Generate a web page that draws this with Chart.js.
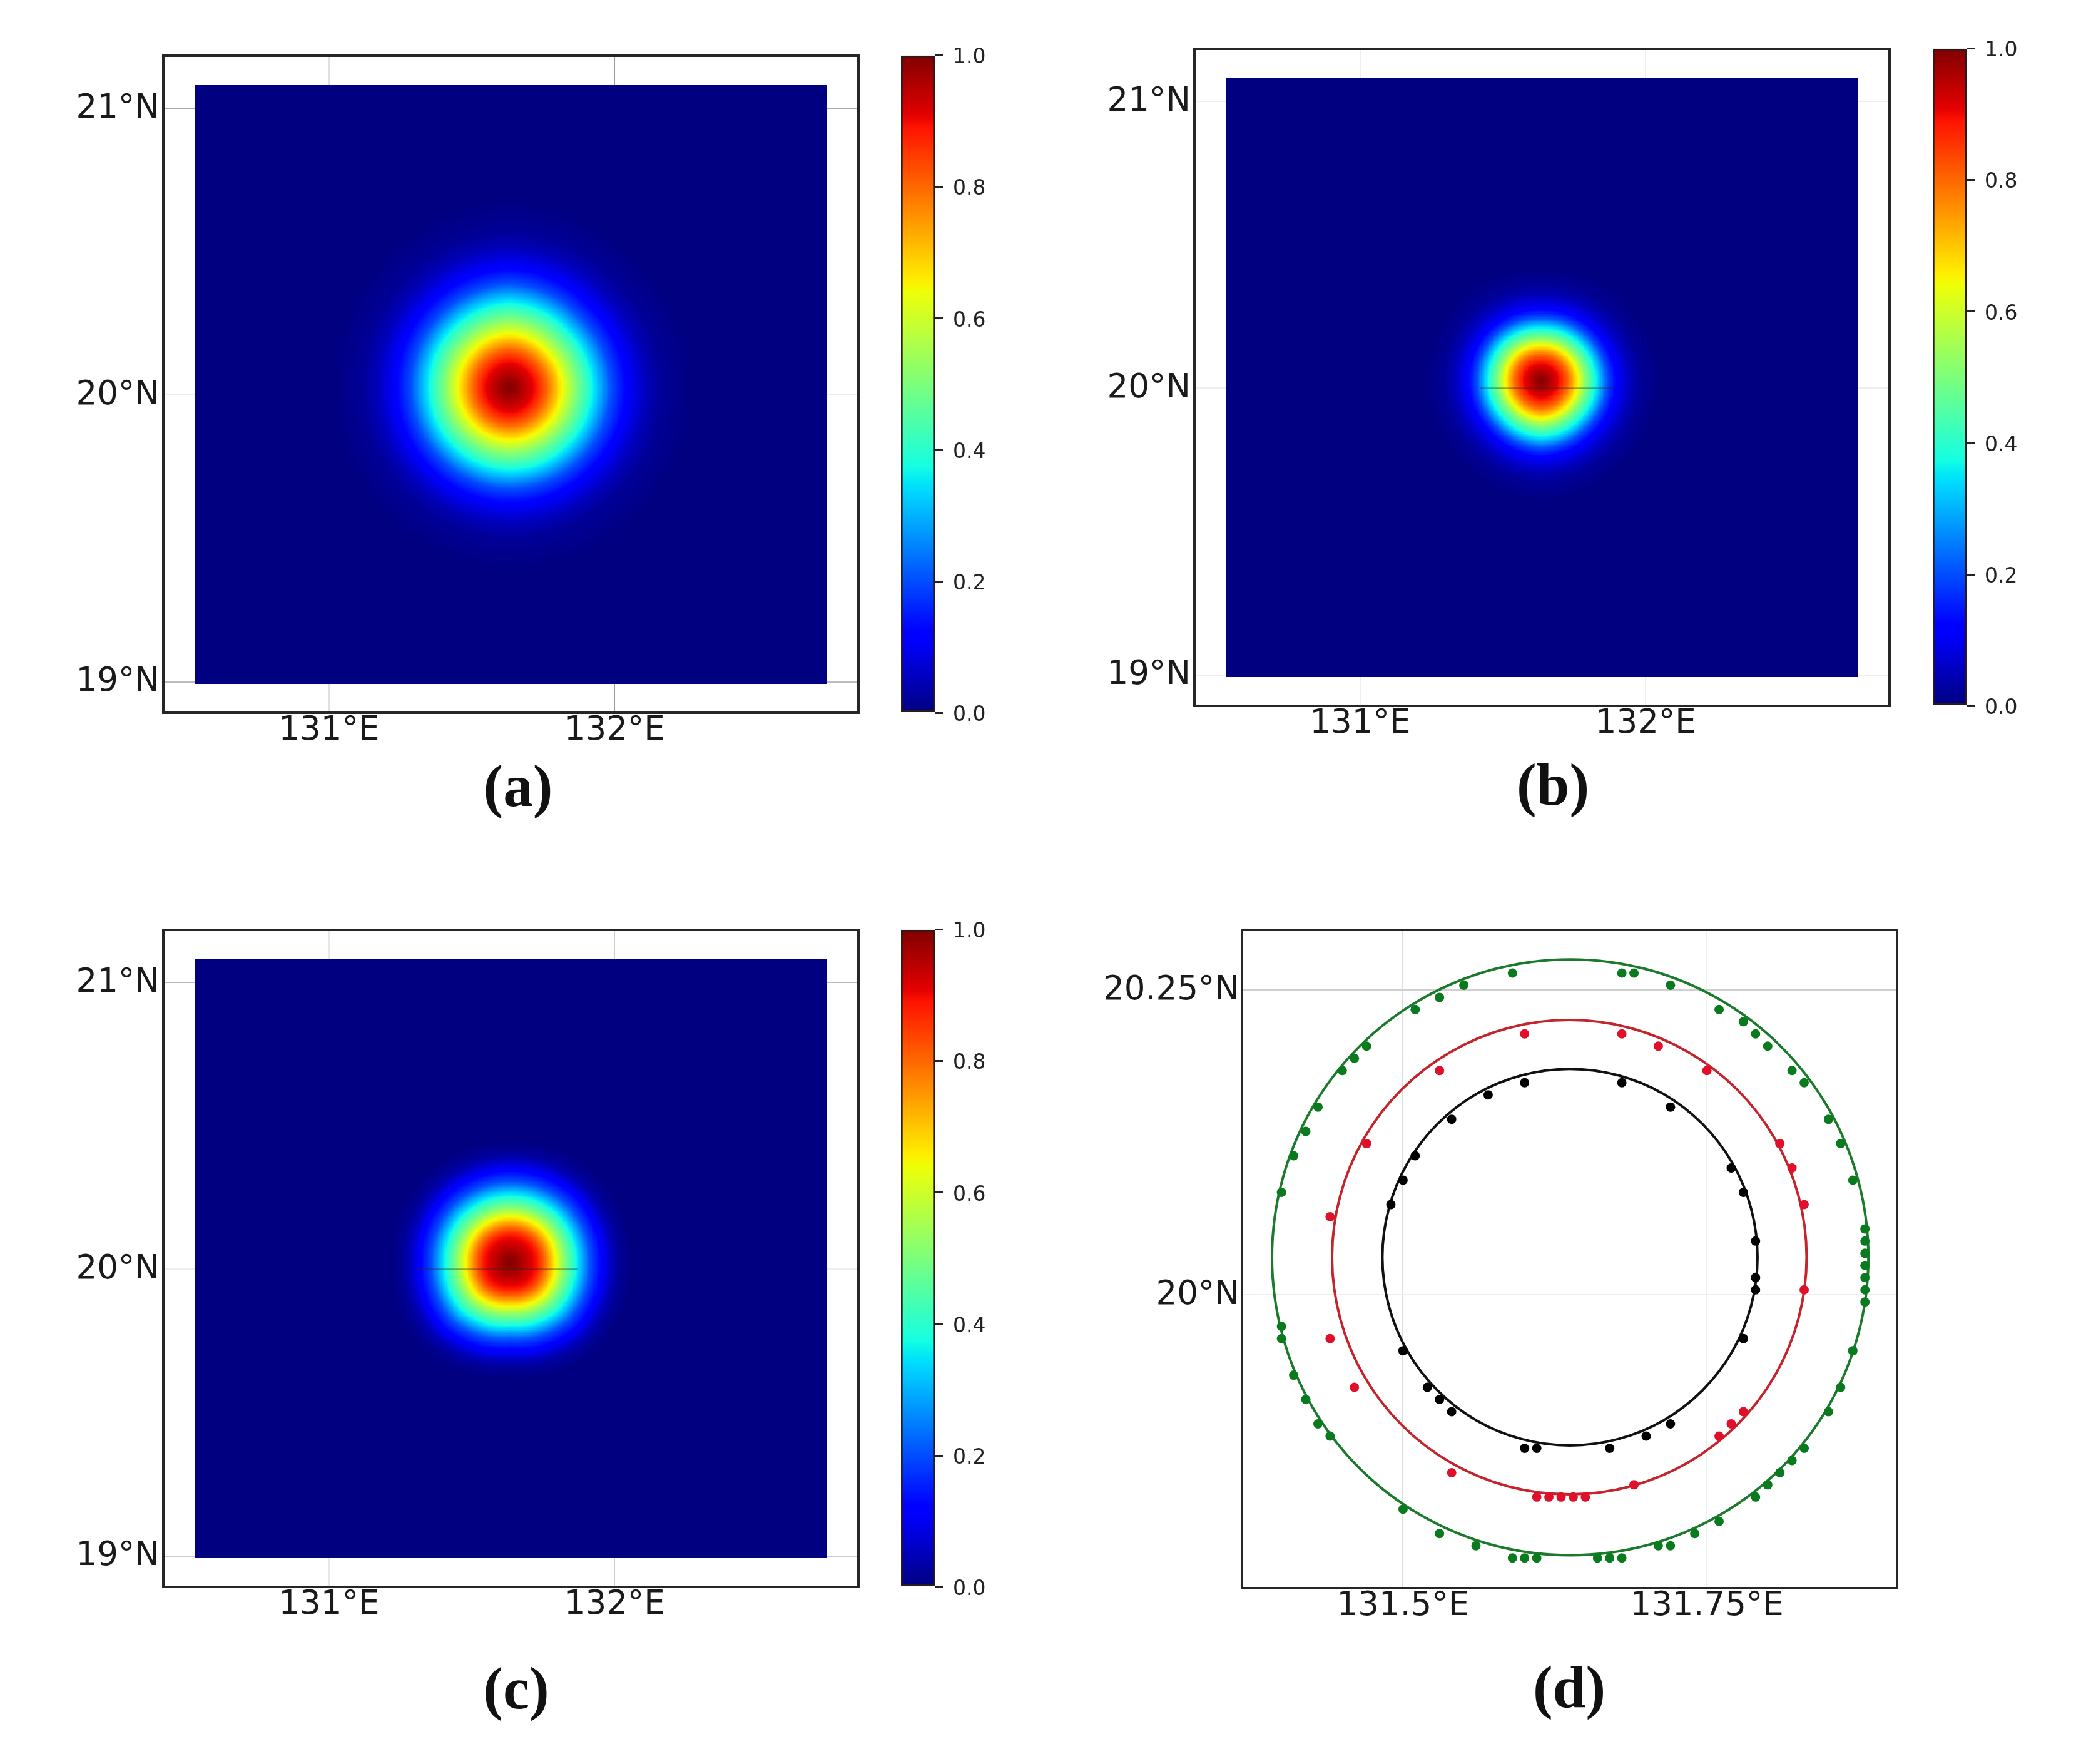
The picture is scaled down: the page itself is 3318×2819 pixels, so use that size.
<!DOCTYPE html>
<html>
<head>
<meta charset="utf-8">
<title>Heat maps and fitted rings</title>
<style>
    html, body { margin: 0; padding: 0; background: #fff; }
    body { position: relative; width: 3318px; height: 2819px; overflow: hidden; }
    canvas { position: absolute; }
    .panel-label {
        position: absolute;
        transform: translate(-50%, -50%);
        font: bold 95px "Liberation Serif", serif;
        color: #111;
    }
</style>
<script src="https://cdn.jsdelivr.net/npm/chart.js@4"></script>
</head>
<body>
<script>
// tick labels
const mapLonTicks = [131, 132];
const mapLatTicks = [19, 20, 21];
const ringLonTicks = [131.5, 131.75];
const ringLatTicks = [20, 20.25];
const barTicks = [0, 0.2, 0.4, 0.6, 0.8, 1];

// the extent of the coloured field in panels a, b, c
const fieldLon = [130.531, 132.745];
const fieldLat = [18.993, 21.081];

// peak position, then value against distance from the peak (degrees),
// then how far the pattern stretches towards E, NE, N, NW, W, SW, S, SE
const peakA = [131.631, 20.024];
const distA = [0, 0.033, 0.088, 0.13, 0.18, 0.232, 0.292, 0.351, 0.41, 0.471, 0.526, 0.636];
const valueA = [1, 0.97, 0.9, 0.8, 0.65, 0.5, 0.35, 0.2, 0.11, 0.05, 0.02, 0];
const stretchA = [1.02, 1, 1.04, 1, 0.98, 0.98, 1, 1];

const peakB = [131.634, 20.027];
const distB = [0, 0.022, 0.061, 0.092, 0.125, 0.154, 0.191, 0.226, 0.259, 0.303, 0.34, 0.406];
const valueB = [1, 0.97, 0.9, 0.8, 0.65, 0.5, 0.35, 0.2, 0.11, 0.05, 0.02, 0];
const stretchB = [1.03, 1, 0.97, 1, 1, 1, 1.05, 1.02];

const peakC = [131.634, 20.022];
const distC = [0, 0.033, 0.094, 0.121, 0.158, 0.193, 0.237, 0.281, 0.325, 0.357, 0.384, 0.428];
const valueC = [1, 0.97, 0.89, 0.8, 0.65, 0.5, 0.35, 0.2, 0.11, 0.05, 0.02, 0];
const stretchC = [1, 1.02, 1.01, 1.01, 0.98, 1.02, 0.95, 1.02];

// grid line shades, one per tick
const gridLonA = ['#e0e0e0', '#9a9a9a'];
const gridLatA = ['#bdbdbd', '#ececec', '#a8a8a8'];
const gridLonB = ['#eeeeee', '#eeeeee'];
const gridLatB = ['#eeeeee', '#eeeeee', '#eeeeee'];
const gridLonC = ['#e8e8e8', '#cccccc'];
const gridLatC = ['#cccccc', '#eeeeee', '#bbbbbb'];
const gridLonD = ['#dddddd', '#f0f0f0'];
const gridLatD = ['#eeeeee', '#cfcfcf'];

// faint 20N line that shows through the field in b and c
const seamLonB = [131.42, 131.89];
const seamLonC = [131.31, 131.87];
const seamLat = [20, 20];

// panel d, the rings
const greenRingLon = [131.8828, 131.8744, 131.8499, 131.811, 131.7602, 131.701, 131.6375, 131.574, 131.5148, 131.464, 131.4251, 131.4006, 131.3922, 131.4006, 131.4251, 131.464, 131.5148, 131.574, 131.6375, 131.701, 131.7602, 131.811, 131.8499, 131.8744];
const greenRingLat = [20.0307, 20.094, 20.153, 20.2036, 20.2424, 20.2669, 20.2752, 20.2669, 20.2424, 20.2036, 20.153, 20.094, 20.0307, 19.9674, 19.9084, 19.8578, 19.819, 19.7945, 19.7862, 19.7945, 19.819, 19.8578, 19.9084, 19.9674];
const redRingLon = [131.832, 131.8253, 131.8058, 131.7748, 131.7344, 131.6873, 131.6368, 131.5863, 131.5392, 131.4988, 131.4678, 131.4483, 131.4416, 131.4483, 131.4678, 131.4988, 131.5392, 131.5863, 131.6368, 131.6873, 131.7344, 131.7748, 131.8058, 131.8253];
const redRingLat = [20.0308, 20.0812, 20.1281, 20.1684, 20.1993, 20.2188, 20.2254, 20.2188, 20.1993, 20.1684, 20.1281, 20.0812, 20.0308, 19.9804, 19.9335, 19.8932, 19.8623, 19.8428, 19.8362, 19.8428, 19.8623, 19.8932, 19.9335, 19.9804];
const blackRingLon = [131.7916, 131.7863, 131.7709, 131.7464, 131.7145, 131.6772, 131.6373, 131.5974, 131.5601, 131.5282, 131.5037, 131.4883, 131.483, 131.4883, 131.5037, 131.5282, 131.5601, 131.5974, 131.6373, 131.6772, 131.7145, 131.7464, 131.7709, 131.7863];
const blackRingLat = [20.0308, 20.0708, 20.1081, 20.14, 20.1646, 20.18, 20.1853, 20.18, 20.1646, 20.14, 20.1081, 20.0708, 20.0308, 19.9908, 19.9535, 19.9216, 19.897, 19.8816, 19.8763, 19.8816, 19.897, 19.9216, 19.9535, 19.9908];

// panel d, the sample points
const greenDots = [
    [131.59, 20.264], [131.68, 20.264], [131.69, 20.264], [131.55, 20.254], [131.72, 20.254], [131.53, 20.244],
    [131.51, 20.234], [131.76, 20.234], [131.78, 20.224], [131.79, 20.214], [131.47, 20.204], [131.80, 20.204],
    [131.46, 20.194], [131.45, 20.184], [131.82, 20.184], [131.83, 20.174], [131.43, 20.154], [131.85, 20.144],
    [131.42, 20.134], [131.86, 20.124], [131.41, 20.114], [131.87, 20.094], [131.40, 20.084], [131.88, 20.054],
    [131.88, 20.044], [131.88, 20.034], [131.88, 20.024], [131.88, 20.014], [131.88, 20.004], [131.88, 19.994],
    [131.40, 19.974], [131.40, 19.964], [131.41, 19.934], [131.42, 19.914], [131.43, 19.894], [131.44, 19.884],
    [131.50, 19.824], [131.53, 19.804], [131.56, 19.794], [131.59, 19.784], [131.60, 19.784], [131.61, 19.784],
    [131.66, 19.784], [131.67, 19.784], [131.68, 19.784], [131.71, 19.794], [131.72, 19.794], [131.74, 19.804],
    [131.76, 19.814], [131.79, 19.834], [131.80, 19.844], [131.81, 19.854], [131.82, 19.864], [131.83, 19.874],
    [131.85, 19.904], [131.86, 19.924], [131.87, 19.954]
];
const redDots = [
    [131.60, 20.214], [131.68, 20.214], [131.71, 20.204], [131.53, 20.184], [131.75, 20.184], [131.47, 20.124],
    [131.81, 20.124], [131.82, 20.104], [131.83, 20.074], [131.44, 20.064], [131.83, 20.004], [131.44, 19.964],
    [131.46, 19.924], [131.54, 19.854], [131.69, 19.844], [131.78, 19.904], [131.77, 19.894], [131.76, 19.884],
    [131.61, 19.834], [131.62, 19.834], [131.63, 19.834], [131.64, 19.834], [131.65, 19.834]
];
const blackDots = [
    [131.60, 20.174], [131.68, 20.174], [131.57, 20.164], [131.72, 20.154], [131.54, 20.144], [131.51, 20.114],
    [131.77, 20.104], [131.50, 20.094], [131.78, 20.084], [131.49, 20.074], [131.79, 20.044], [131.79, 20.014],
    [131.79, 20.004], [131.78, 19.964], [131.50, 19.954], [131.52, 19.924], [131.53, 19.914], [131.54, 19.904],
    [131.72, 19.894], [131.70, 19.884], [131.67, 19.874], [131.60, 19.874], [131.61, 19.874]
];

// jet colour map
const jetPos = [0, 0.11, 0.125, 0.34, 0.35, 0.375, 0.64, 0.65, 0.66, 0.89, 0.91, 1];
const jetRgb = [[0, 0, 128], [0, 0, 255], [0, 0, 255], [0, 219, 255], [0, 230, 247], [21, 255, 226],
    [238, 255, 8], [247, 246, 0], [255, 236, 0], [255, 19, 0], [227, 0, 0], [128, 0, 0]];

Chart.defaults.font.family = '"DejaVu Sans"';
Chart.defaults.color = '#1a1a1a';
Chart.defaults.animation = false;

const LEFT = 240, TOP = 50, RIGHT = 12, BOTTOM = 80;

function lookup(xs, ys, x) {
    if (x <= xs[0]) return ys[0];
    for (let i = 1; i < xs.length; i++) {
        if (x <= xs[i]) {
            return ys[i - 1] + (ys[i] - ys[i - 1]) * (x - xs[i - 1]) / (xs[i] - xs[i - 1]);
        }
    }
    return ys[ys.length - 1];
}

function jet(v) {
    const r = lookup(jetPos, jetRgb.map(c => c[0]), v);
    const g = lookup(jetPos, jetRgb.map(c => c[1]), v);
    const b = lookup(jetPos, jetRgb.map(c => c[2]), v);
    return 'rgb(' + Math.round(r) + ',' + Math.round(g) + ',' + Math.round(b) + ')';
}

function addCanvas(left, top, width, height) {
    const canvas = document.createElement('canvas');
    canvas.width = width;
    canvas.height = height;
    canvas.style.left = left + 'px';
    canvas.style.top = top + 'px';
    canvas.style.width = width + 'px';
    canvas.style.height = height + 'px';
    document.body.appendChild(canvas);
    return canvas;
}

// draws the box all the way round the plot
const framePlugin = {
    id: 'frame',
    afterDraw(chart) {
        const a = chart.chartArea, ctx = chart.ctx;
        ctx.save();
        ctx.strokeStyle = '#262626';
        ctx.lineWidth = 4;
        ctx.strokeRect(a.left, a.top, a.right - a.left, a.bottom - a.top);
        ctx.restore();
    }
};

// paints the coloured field under the datasets, cell by cell through the scales
const fieldPlugin = {
    id: 'field',
    beforeDatasetsDraw(chart, args, opts) {
        const x = chart.scales.x, y = chart.scales.y, ctx = chart.ctx;
        const x0 = Math.round(x.getPixelForValue(fieldLon[0])), x1 = Math.round(x.getPixelForValue(fieldLon[1]));
        const y0 = Math.round(y.getPixelForValue(fieldLat[1])), y1 = Math.round(y.getPixelForValue(fieldLat[0]));
        const reach = opts.dist[opts.dist.length - 1] * 1.1;
        const angles = [0, 1, 2, 3, 4, 5, 6, 7, 8];
        const stretch = opts.stretch.concat(opts.stretch[0]);
        ctx.save();
        ctx.fillStyle = jet(0);
        ctx.fillRect(x0, y0, x1 - x0, y1 - y0);
        const step = 2;
        for (let py = y0; py < y1; py += step) {
            const lat = y.getValueForPixel(py + step / 2) - opts.peak[1];
            if (Math.abs(lat) > reach) continue;
            for (let px = x0; px < x1; px += step) {
                const lon = x.getValueForPixel(px + step / 2) - opts.peak[0];
                if (Math.abs(lon) > reach) continue;
                let turn = Math.atan2(lat, lon) / (Math.PI / 4);
                if (turn < 0) turn += 8;
                const r = Math.sqrt(lon * lon + lat * lat) / lookup(angles, stretch, turn);
                const v = lookup(opts.dist, opts.value, r);
                if (v <= 0) continue;
                ctx.fillStyle = jet(v);
                ctx.fillRect(px, py, step, step);
            }
        }
        ctx.restore();
    }
};

function fixedAxis(ticks, suffix, fit, extra, tickExtra) {
    return Object.assign({
        type: 'linear',
        afterBuildTicks: s => { s.ticks = ticks.map(v => ({ value: v })); },
        afterFit: fit,
        ticks: Object.assign({
            font: { size: 53 },
            color: '#1a1a1a',
            autoSkip: false,
            maxRotation: 0,
            callback: v => v + suffix
        }, tickExtra),
        border: { display: false }
    }, extra);
}

function mapPanel(frame, lonColors, latColors, field, seamLon) {
    const canvas = addCanvas(frame[0] - LEFT, frame[1] - TOP, frame[2] + LEFT + RIGHT, frame[3] + TOP + BOTTOM);
    const datasets = [];
    if (seamLon) {
        datasets.push({
            data: seamLon.map((lon, i) => ({ x: lon, y: seamLat[i] })),
            showLine: true,
            pointRadius: 0,
            borderWidth: 2,
            borderColor: 'rgba(40,40,40,0.4)'
        });
    }
    return new Chart(canvas, {
        type: 'scatter',
        data: { datasets: datasets },
        plugins: [fieldPlugin, framePlugin],
        options: {
            responsive: false,
            layout: { padding: { top: TOP, right: RIGHT, left: 0, bottom: 0 } },
            plugins: { legend: { display: false }, tooltip: { enabled: false }, field: field },
            scales: {
                x: fixedAxis(mapLonTicks, '°E', s => { s.height = BOTTOM; }, {
                    min: 130.4195, max: 132.854,
                    grid: { color: lonColors, lineWidth: 2, drawTicks: false }
                }, { padding: -3 }),
                y: fixedAxis(mapLatTicks, '°N', s => { s.width = LEFT; }, {
                    min: 18.892, max: 21.183,
                    grid: { color: latColors, lineWidth: 2, drawTicks: false }
                }, { labelOffset: 1, padding: 6 })
            }
        }
    });
}

function colourBar(frame) {
    // the tick labels push the plot area in by about 36px at both ends
    const pad = 36;
    const canvas = addCanvas(frame[0], frame[1] - pad, 170, frame[3] + pad * 2);
    return new Chart(canvas, {
        type: 'bar',
        data: {
            labels: [''],
            datasets: [{
                data: [[0, 1]],
                barPercentage: 1,
                categoryPercentage: 1,
                borderWidth: 3,
                borderColor: '#2a1a1a',
                borderSkipped: false,
                backgroundColor: ctx => {
                    const chart = ctx.chart;
                    if (!chart.chartArea) return '#000080';
                    const y = chart.scales.y;
                    const g = chart.ctx.createLinearGradient(0, y.getPixelForValue(0), 0, y.getPixelForValue(1));
                    jetPos.forEach(p => g.addColorStop(p, jet(p)));
                    return g;
                }
            }]
        },
        options: {
            responsive: false,
            layout: { padding: { top: 30, bottom: 30, left: 0, right: 0 } },
            plugins: { legend: { display: false }, tooltip: { enabled: false } },
            scales: {
                x: { display: false },
                y: {
                    type: 'linear',
                    position: 'right',
                    min: 0,
                    max: 1,
                    afterBuildTicks: s => { s.ticks = barTicks.map(v => ({ value: v })); },
                    afterFit: s => { s.width = 116; },
                    ticks: { font: { size: 33 }, color: '#222', padding: 16, labelOffset: 4, callback: v => v.toFixed(1) },
                    grid: { drawOnChartArea: false, tickLength: 13, tickColor: '#222', lineWidth: 3 },
                    border: { display: false }
                }
            }
        }
    });
}

function dots(points, color) {
    return {
        data: points.map(p => ({ x: p[0], y: p[1] })),
        pointRadius: 7.5,
        pointBackgroundColor: color,
        pointBorderWidth: 0,
        order: 1
    };
}

function ring(lons, lats, color) {
    // runs three points past the start so that the loop closes smoothly
    const n = lons.length + 3;
    const points = [];
    for (let i = 0; i < n; i++) {
        points.push({ x: lons[i % lons.length], y: lats[i % lats.length] });
    }
    return {
        data: points,
        showLine: true,
        tension: 0.338,
        pointRadius: 0,
        borderWidth: 4,
        borderColor: color,
        segment: {
            borderColor: ctx => (ctx.p0DataIndex === 0 || ctx.p1DataIndex === n - 1) ? 'rgba(0,0,0,0)' : undefined
        },
        order: 2
    };
}

function ringPanel(frame) {
    const canvas = addCanvas(frame[0] - LEFT, frame[1] - TOP, frame[2] + LEFT + RIGHT, frame[3] + TOP + BOTTOM);
    return new Chart(canvas, {
        type: 'scatter',
        data: {
            datasets: [
                dots(greenDots, '#0a7a1e'),
                dots(redDots, '#e0102a'),
                dots(blackDots, '#000000'),
                ring(greenRingLon, greenRingLat, '#1c7a2c'),
                ring(redRingLon, redRingLat, '#c4242c'),
                ring(blackRingLon, blackRingLat, '#111111')
            ]
        },
        plugins: [framePlugin],
        options: {
            responsive: false,
            layout: { padding: { top: TOP, right: RIGHT, left: 0, bottom: 0 } },
            plugins: { legend: { display: false }, tooltip: { enabled: false } },
            scales: {
                x: fixedAxis(ringLonTicks, '°E', s => { s.height = BOTTOM; }, {
                    min: 131.3675, max: 131.9064,
                    grid: { color: gridLonD, lineWidth: 2, drawTicks: false }
                }, { padding: -3 }),
                y: fixedAxis(ringLatTicks, '°N', s => { s.width = LEFT; }, {
                    min: 19.7592, max: 20.2994,
                    grid: { color: gridLatD, lineWidth: 2, drawTicks: false }
                }, { labelOffset: 1, padding: 4 })
            }
        }
    });
}

function panelLabel(text, x, y) {
    const div = document.createElement('div');
    div.className = 'panel-label';
    div.textContent = text;
    div.style.left = x + 'px';
    div.style.top = y + 'px';
    document.body.appendChild(div);
}

mapPanel([261, 89, 1111, 1050], gridLonA, gridLatA, { peak: peakA, dist: distA, value: valueA, stretch: stretchA });
mapPanel([1909, 78, 1111, 1050], gridLonB, gridLatB, { peak: peakB, dist: distB, value: valueB, stretch: stretchB }, seamLonB);
mapPanel([261, 1486, 1111, 1050], gridLonC, gridLatC, { peak: peakC, dist: distC, value: valueC, stretch: stretchC }, seamLonC);
ringPanel([1985, 1486, 1047, 1052]);

colourBar([1440, 89, 54, 1050]);
colourBar([3089, 78, 54, 1050]);
colourBar([1440, 1486, 54, 1050]);

panelLabel('(a)', 828, 1256);
panelLabel('(b)', 2482, 1254);
panelLabel('(c)', 825, 2698);
panelLabel('(d)', 2508, 2696);
</script>
</body>
</html>
